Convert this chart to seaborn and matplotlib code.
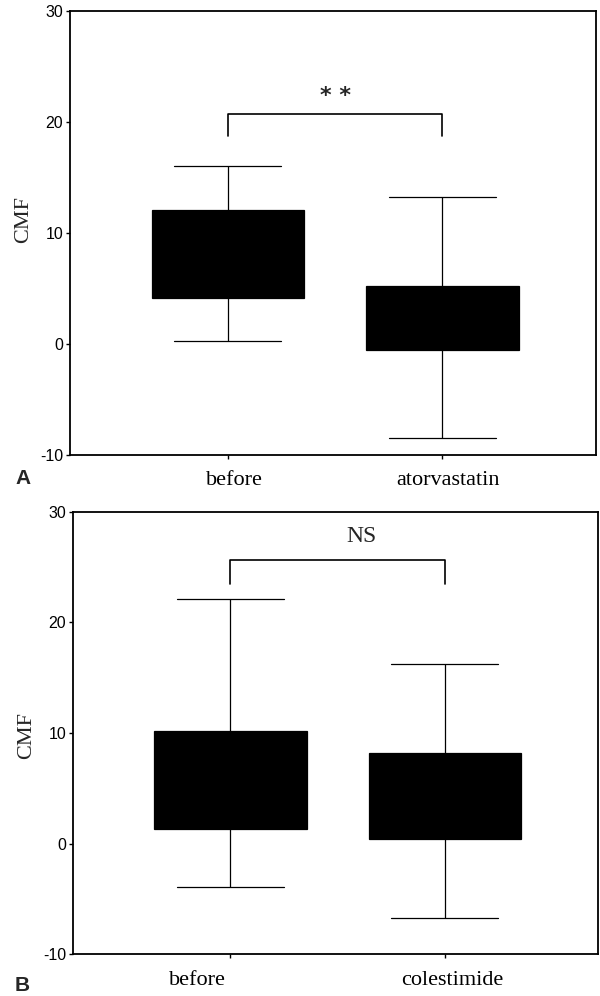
import numpy as np
import pandas as pd
import matplotlib
matplotlib.use('Agg')
import matplotlib.pyplot as plt
import seaborn as sns
from matplotlib.transforms import ScaledTranslation

# five-number summaries: min, q1, median, q3, max
groups_a = ['before', 'atorvastatin']
before_a = [0.2, 4.1, 8.0, 12.0, 16.0]
atorva = [-8.5, -0.55, 2.0, 5.2, 13.2]

groups_b = ['before', 'colestimide']
before_b = [-3.9, 1.3, 5.0, 10.2, 22.1]
colesti = [-6.7, 0.4, 4.0, 8.2, 16.2]

yticks = [-10, 0, 10, 20, 30]

# significance brackets: bar level, leg bottom, text level
bracket_a = [20.7, 18.7, 22.3]
bracket_b = [25.7, 23.5, 27.8]

sns.set_theme(style='ticks')
plt.rcParams['font.family'] = ['Liberation Serif', 'DejaVu Serif']

fig = plt.figure(figsize=(6, 9.96), dpi=100)


def draw_panel(ax, groups, series, bracket, mark, mark_x, mark_kw, label_shift, ylab_y):
    df = pd.DataFrame({'group': np.repeat(groups, len(series[0])),
                       'CMF': np.concatenate(series)})
    sns.boxplot(data=df, x='group', y='CMF', order=groups, color='black',
                linecolor='black', width=0.71, whis=(0, 100), linewidth=0.9,
                showfliers=False, capwidths=0.5, ax=ax)
    ax.set_xlim(-0.735, 1.715)
    ax.set_ylim(-10, 30)
    ax.set_yticks(yticks)
    ax.set_yticklabels([str(t) for t in yticks], family='Liberation Sans', fontsize=11.5)
    ax.set_xticks(range(len(groups)))
    ax.set_xticklabels(groups, family='Liberation Serif', fontsize=16)
    ax.tick_params(axis='y', direction='out', length=3, width=1, pad=2, colors='black')
    ax.tick_params(axis='x', direction='out', length=3, width=1, pad=9, colors='black')
    for lab, dx in zip(ax.get_xticklabels(), label_shift):
        lab.set_transform(lab.get_transform() + ScaledTranslation(dx / 100, 0, fig.dpi_scale_trans))
    for sp in ax.spines.values():
        sp.set_visible(True)
        sp.set_color('black')
        sp.set_linewidth(1.3)
    ax.set_xlabel('')
    ax.set_ylabel('CMF', fontsize=16, family='Liberation Serif')
    ax.yaxis.set_label_coords(-0.07, ylab_y)

    top, leg, txt = bracket
    ax.plot([0, 0, 1, 1], [leg, top, top, leg], color='black', lw=1.2)
    ax.text(mark_x, txt, mark, ha='center', va='center', **mark_kw)


ax_a = fig.add_axes([70 / 600, 1 - 454.6 / 996, 526 / 600, 443.9 / 996])
draw_panel(ax_a, groups_a, [before_a, atorva], bracket_a, '* *', 0.5,
           dict(fontsize=16, fontweight='bold', family='DejaVu Sans'), [7, 6], 0.53)

ax_b = fig.add_axes([73 / 600, 1 - 954 / 996, 525 / 600, 442 / 996])
draw_panel(ax_b, groups_b, [before_b, colesti], bracket_b, 'NS', 0.61,
           dict(fontsize=17, family='Liberation Serif'), [-33, 7], 0.495)

fig.text(15 / 600, 1 - 479 / 996, 'A', fontsize=15, fontweight='bold',
         family='Liberation Sans', ha='left', va='center')
fig.text(15 / 600, 1 - 985 / 996, 'B', fontsize=15, fontweight='bold',
         family='Liberation Sans', ha='left', va='center')

fig.savefig('out.png', dpi=100, facecolor='white')
